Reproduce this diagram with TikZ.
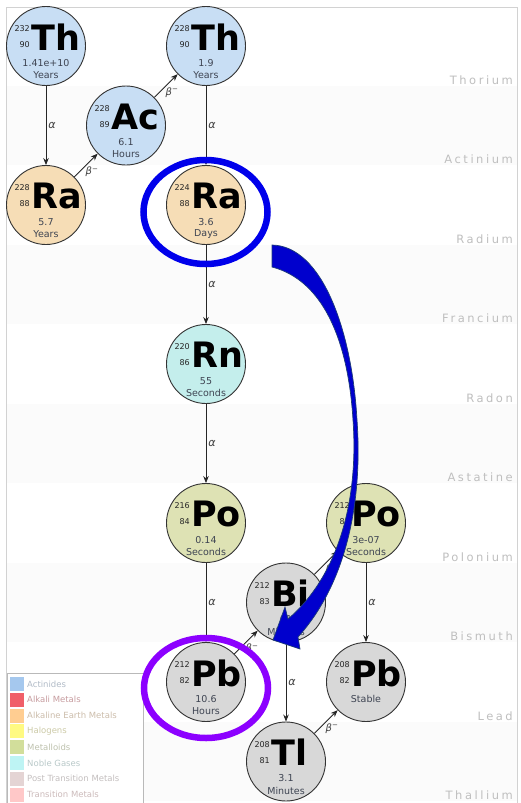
\documentclass[tikz,border=0pt]{standalone}
\usepackage{fontspec}
\setmainfont{DejaVu Sans}
\newfontfamily\rowfont{DejaVu Sans}[LetterSpace=22]
\usetikzlibrary{arrows.meta,shapes.geometric}
\definecolor{actc}{RGB}{200,222,244}
\definecolor{rac}{RGB}{246,221,182}
\definecolor{rnc}{RGB}{196,238,236}
\definecolor{poc}{RGB}{222,226,180}
\definecolor{pmc}{RGB}{216,216,216}
\definecolor{hlc}{RGB}{62,68,82}
\definecolor{annblue}{RGB}{0,0,235}
\definecolor{annpurple}{RGB}{140,0,255}
\definecolor{arrowfill}{RGB}{0,0,205}
\definecolor{arrowedge}{RGB}{30,60,120}
\definecolor{legA}{RGB}{165,200,238}
\definecolor{legB}{RGB}{240,95,105}
\definecolor{legC}{RGB}{255,205,145}
\definecolor{legD}{RGB}{255,250,130}
\definecolor{legE}{RGB}{210,222,155}
\definecolor{legF}{RGB}{190,244,244}
\definecolor{legG}{RGB}{228,212,212}
\definecolor{legH}{RGB}{255,200,200}
\newcommand\nuc[9]{%
  \node[nucl,fill=#4] (#1) at (#2,#3) {};
  \node[numtext,anchor=east] (#1-a) at (#2-16,#3-17) {#5};
  \node[numtext,anchor=east] (#1-z) at (#2-16,#3-1) {#6};
  \node[symtext,anchor=west] (#1-s) at (#2-15,#3-9) {#7};
  \node[hltext] (#1-h) at (#2,#3+17) {#8};
  \node[hltext] (#1-u) at (#2,#3+29) {#9};
}
\begin{document}
\begin{tikzpicture}[x=1pt,y=-1pt,
  nucl/.style={circle,draw=black!80,line width=0.9pt,minimum size=79pt,inner sep=0pt},
  numtext/.style={font=\fontsize{8}{8}\selectfont,text=black!85,inner sep=0pt},
  symtext/.style={font=\fontsize{35}{35}\selectfont\bfseries,inner sep=0pt},
  hltext/.style={font=\fontsize{9.5}{9.5}\selectfont,text=hlc,inner sep=0pt},
  conn/.style={-{Stealth[length=7pt,width=5.5pt]},line width=0.8pt,draw=black!85},
  alab/.style={font=\fontsize{11}{11}\selectfont\itshape,text=black!75,inner sep=1pt},
  blab/.style={font=\fontsize{10}{10}\selectfont\itshape,text=black!75,inner sep=0.5pt},
  rowlab/.style={font=\rowfont\fontsize{11.5}{11.5}\selectfont,text=gray!50,anchor=east,inner sep=0pt},
  legtext/.style={font=\fontsize{8.5}{8.5}\selectfont,anchor=west,inner sep=0pt},
  ann/.style={ellipse,draw,line width=6.5pt,inner sep=0pt,fill=none}
]
\useasboundingbox (0,0) rectangle (521,803);
\fill[white] (0,0) rectangle (521,803);
% faint row bands
\foreach \i in {1,3,5,7,9} \fill[gray!3] (7,6+79.5*\i) rectangle (517,6+79.5*\i+79.5);
% frame
\draw[gray!35,line width=0.8pt] (6.5,7.5) rectangle (517.5,830);
% row labels
\foreach \n [count=\i from 0] in {Thorium,Actinium,Radium,Francium,Radon,Astatine,Polonium,Bismuth,Lead,Thallium}
  \node[rowlab] (row\i) at (513,80+79.5*\i) {\n};
% nuclides
\nuc{th232}{46}{46}{actc}{232}{90}{Th}{1.41e+10}{Years}
\nuc{ra228}{46}{205}{rac}{228}{88}{Ra}{5.7}{Years}
\nuc{ac228}{126}{125.5}{actc}{228}{89}{Ac}{6.1}{Hours}
\nuc{th228}{206}{46}{actc}{228}{90}{Th}{1.9}{Years}
\nuc{ra224}{206}{205}{rac}{224}{88}{Ra}{3.6}{Days}
\nuc{rn220}{206}{364}{rnc}{220}{86}{Rn}{55}{Seconds}
\nuc{po216}{206}{523}{poc}{216}{84}{Po}{0.14}{Seconds}
\nuc{pb212}{206}{682}{pmc}{212}{82}{Pb}{10.6}{Hours}
\nuc{bi212}{286}{602.5}{pmc}{212}{83}{Bi}{61}{Minutes}
\nuc{po212}{366}{523}{poc}{212}{84}{Po}{3e-07}{Seconds}
\nuc{pb208}{366}{682}{pmc}{208}{82}{Pb}{Stable}{}
\nuc{tl208}{286}{761.5}{pmc}{208}{81}{Tl}{3.1}{Minutes}
% alpha decays
\draw[conn] (th232) -- (ra228) node[alab,midway,right=1pt] (a1) {α};
\draw[conn] (th228) -- (ra224) node[alab,midway,right=1pt] (a2) {α};
\draw[conn] (ra224) -- (rn220) node[alab,midway,right=1pt] (a3) {α};
\draw[conn] (rn220) -- (po216) node[alab,midway,right=1pt] (a4) {α};
\draw[conn] (po216) -- (pb212) node[alab,midway,right=1pt] (a5) {α};
\draw[conn] (bi212) -- (tl208) node[alab,midway,right=1pt] (a6) {α};
\draw[conn] (po212) -- (pb208) node[alab,midway,right=1pt] (a7) {α};
% beta decays
\draw[conn] (ra228) -- (ac228) node[blab,pos=0.45,anchor=north west] (b1) {β\textsuperscript{−}};
\draw[conn] (ac228) -- (th228) node[blab,pos=0.45,anchor=north west] (b2) {β\textsuperscript{−}};
\draw[conn] (pb212) -- (bi212) node[blab,pos=0.45,anchor=north west] (b3) {β\textsuperscript{−}};
\draw[conn] (bi212) -- (po212) node[blab,pos=0.45,anchor=north west] (b4) {β\textsuperscript{−}};
\draw[conn] (tl208) -- (pb208) node[blab,pos=0.45,anchor=north west] (b5) {β\textsuperscript{−}};
% legend
\draw[gray!55,line width=0.7pt,fill=white] (7,673) rectangle (143,830);
\foreach \c/\t [count=\i from 0] in {legA/Actinides,legB/Alkali Metals,legC/Alkaline Earth Metals,legD/Halogens,legE/Metalloids,legF/Noble Gases,legG/Post Transition Metals,legH/Transition Metals}{
  \fill[\c] (10,677+15.8*\i) rectangle (24,691+15.8*\i);
  \node[legtext,text=\c!60!black!50] (leg\i) at (27,684+15.8*\i) {\t};
}
% annotations
\node[ann,draw=annblue,minimum width=124pt,minimum height=104pt] (hlra) at (205.5,212) {};
\node[ann,draw=annpurple,minimum width=124pt,minimum height=100pt] (hlpb) at (206,688) {};
\filldraw[fill=arrowfill,draw=arrowedge,line width=0.7pt]
  (272,245) .. controls (322,246) and (352,330) .. (357,420)
  .. controls (363,505) and (345,585) .. (298,637)
  -- (300,649) -- (273,640) -- (285,607) -- (288,619)
  .. controls (336,578) and (359,505) .. (353,420)
  .. controls (348,338) and (322,280) .. (272,267) -- cycle;
\end{tikzpicture}
\end{document}
